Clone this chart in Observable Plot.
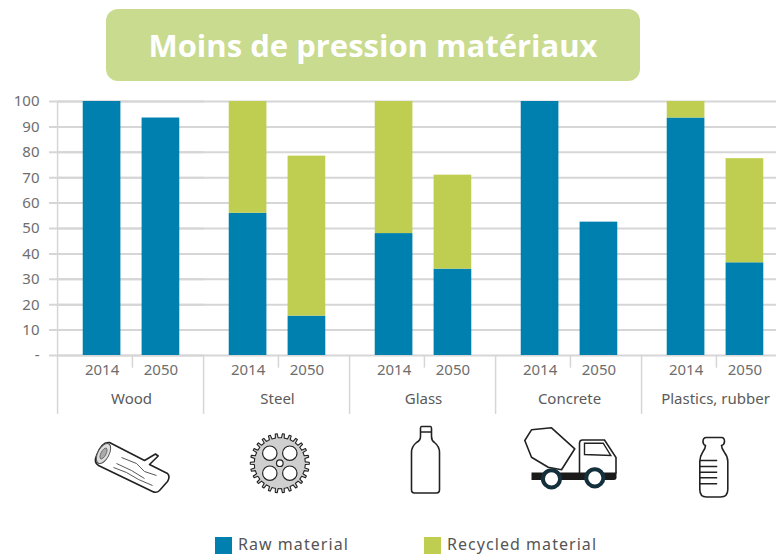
<!DOCTYPE html>
<html><head><meta charset="utf-8">
<script src="https://cdn.jsdelivr.net/npm/d3@7"></script>
<script src="https://cdn.jsdelivr.net/npm/@observablehq/plot@0.6"></script>
<style>
html,body{margin:0;padding:0;background:#fff;overflow:hidden}
#head{height:90px;position:relative}
#banner{position:absolute;left:106px;top:9px;width:534px;height:72px;background:#c9db8f;border-radius:12px;color:#fff;font:700 31px "Open Sans",sans-serif;display:flex;align-items:center;justify-content:center}
#chart svg{display:block}
#legend{position:relative;height:20px;font:16px "Noto Sans",sans-serif;color:#555;letter-spacing:1.05px}
#legend span{position:absolute;top:-1px;line-height:20px;white-space:nowrap}
#legend i{position:absolute;top:2px;width:17px;height:17px}
</style></head><body>
<div id="head"><div id="banner">Moins de pression matériaux</div></div>
<div id="chart"></div>
<div id="legend">
<i style="left:215px;background:#0080ae"></i><span style="left:238px">Raw material</span>
<i style="left:424px;background:#bfce50"></i><span style="left:447px">Recycled material</span>
</div>
<script>
const categories = ["Wood","Steel","Glass","Concrete","Plastics, rubber"];
const years = ["2014","2050"];
const raw2014 = [100,56,48,100,93.5];
const raw2050 = [93.5,15.5,34,52.5,36.5];
const recycled2014 = [0,44,52,0,6.5];
const recycled2050 = [0,63,37,0,41];
const yTicks = [0,10,20,30,40,50,60,70,80,90,100];
const seriesNames = ["Raw material","Recycled material"];

const rows = categories.flatMap((c,i)=>[
  {category:c,year:years[0],series:seriesNames[0],value:raw2014[i]},
  {category:c,year:years[0],series:seriesNames[1],value:recycled2014[i]},
  {category:c,year:years[1],series:seriesNames[0],value:raw2050[i]},
  {category:c,year:years[1],series:seriesNames[1],value:recycled2050[i]}
]);
const gridRows = categories.flatMap(c=>yTicks.map(t=>({category:c,tick:t})));

const k="#222";
function gearPath(cx,cy,n,r1,r2){
  let p="";
  for(let i=0;i<n;i++){
    const a=i/n*2*Math.PI, w=2*Math.PI/n;
    const pts=[[a-w*.5,r1],[a-w*.22,r1],[a-w*.14,r2],[a+w*.14,r2],[a+w*.22,r1]];
    pts.forEach(([t,r],j)=>{p+=(i===0&&j===0?"M":"L")+(cx+r*Math.cos(t)).toFixed(2)+","+(cy+r*Math.sin(t)).toFixed(2);});
  }
  return p+"Z";
}
const iconSvg = {
  "Wood":`<path d="M33,27 L68,45 L79,38.5 L81.7,40.5 L73,49 L91,58 Q94,61 91,66 L83,75 Q80,78 76,76 L22,50 Q17,47 20,40 Q25,26 33,27Z" fill="#fff" stroke="${k}" stroke-width="1.6" stroke-linejoin="round"/>
    <ellipse cx="27" cy="38" rx="5.6" ry="11" transform="rotate(28 27 38)" fill="#ddd" stroke="#555" stroke-width="1"/>
    <ellipse cx="27" cy="38" rx="2.5" ry="6" transform="rotate(28 27 38)" fill="#aaa" stroke="#555" stroke-width=".7"/>
    <path d="M45,42 L60,48 L68,56 L80,60 M37,52 L50,57 L62,64 L76,70 M40,48 L55,55 L68,63" fill="none" stroke="#444" stroke-width=".9"/>`,
  "Steel":`<path d="${gearPath(57.3,47.7,26,25.5,29.5)}" fill="#cfcfcf" stroke="${k}" stroke-width="1.1" stroke-linejoin="round"/>
    <g fill="#fff" stroke="${k}" stroke-width="1.2"><circle cx="47.3" cy="37.7" r="7.2"/><circle cx="67.3" cy="37.7" r="7.2"/><circle cx="47.3" cy="57.7" r="7.2"/><circle cx="67.3" cy="57.7" r="7.2"/><circle cx="57.3" cy="47.7" r="3.3"/></g>`,
  "Glass":`<path d="M53,11 H62 Q63,11 63,13 V21 Q63,25 66,27 Q71,31 71,37 V74 Q71,77.5 68,77.5 H46 Q43,77.5 43,74 V37 Q43,31 48,27 Q52,25 52,21 V13 Q52,11 53,11Z M52,16.5 H63" fill="#fff" stroke="${k}" stroke-width="1.6"/>`,
  "Concrete":`<path d="M10.3,25 L17,14.3 L37,12.3 L60.3,33.3 L47,54.3 L33.7,51.7 L17,41.7Z" fill="#fff" stroke="${k}" stroke-width="1.6" stroke-linejoin="round"/>
    <path d="M65,58 V28 Q65,24.5 68,24.5 H90 L101.5,42 V58" fill="#fff" stroke="${k}" stroke-width="1.6"/>
    <path d="M70,27.7 H88.7 L96.3,40 L70,39Z" fill="#fff" stroke="${k}" stroke-width="1.4"/>
    <path d="M17,57 H102 V62 Q102,64.5 99,64.5 H17Z" fill="#1a1a1a"/>
    <circle cx="37" cy="63.3" r="8.6" fill="#fff" stroke="#14303c" stroke-width="4"/>
    <circle cx="80.3" cy="62.3" r="8.6" fill="#fff" stroke="#14303c" stroke-width="4"/>`,
  "Plastics, rubber":`<path d="M46,22 H61 Q64,22 64,26 Q64,29 61,30 Q61,33 64,37 Q67.3,41 67.3,46 V74 Q67.3,81.5 60,81.5 H46 Q39.3,81.5 39.3,74 V46 Q39.3,41 42,37 Q45,33 45,30 Q42.5,29 42.5,26 Q42.5,22 46,22Z" fill="#fff" stroke="${k}" stroke-width="1.6"/>
    <path d="M39.3,45 H56.7 M39.3,51 H56.7 M39.3,56.7 H56.7 M39.3,62.3 H56.7 M39.3,68.3 H56.7" stroke="${k}" stroke-width="1.6"/>`
};
const icons = categories.map(c=>({category:c,
  src:"data:image/svg+xml;utf8,"+encodeURIComponent(`<svg xmlns="http://www.w3.org/2000/svg" width="110" height="90" viewBox="0 0 110 90">${iconSvg[c]}</svg>`)}));

const lineColor="#d6d6d6", textColor="#6e6e6e";
const sep=-23.2, midSep=-5;

const plot = Plot.plot({
  width:776, height:445, marginTop:11, marginBottom:180, marginLeft:48, marginRight:0,
  style:{fontFamily:'"Noto Sans",sans-serif',fontSize:"15px",color:textColor,background:"#fff",overflow:"hidden"},
  fx:{domain:categories,range:[57,788.5],paddingInner:0,paddingOuter:0,axis:null,label:null},
  x:{domain:years,paddingInner:.36,paddingOuter:.42,round:false,axis:null,label:null},
  y:{domain:[0,100],axis:null,label:null},
  color:{domain:seriesNames,range:["#0080ae","#bfce50"]},
  marks:[
    Plot.ruleY(gridRows,{fx:"category",y:"tick",stroke:lineColor,strokeWidth:2,strokeOpacity:1}),
    Plot.ruleY(yTicks,{fx:()=>categories[0],y:d=>d,insetLeft:-9,stroke:lineColor,strokeWidth:2,strokeOpacity:1}),
    Plot.barY(rows,{fx:"category",x:"year",y:"value",fill:"series",order:seriesNames}),
    Plot.ruleX(categories,{fx:d=>d,x:()=>years[0],dx:-44.5,y1:0,y2:sep,stroke:lineColor,strokeWidth:1.5,strokeOpacity:1}),
    Plot.ruleX([categories[0]],{fx:d=>d,x:()=>years[0],dx:-44.5,y1:0,y2:100,stroke:lineColor,strokeWidth:1.5,strokeOpacity:1}),
    Plot.ruleX(categories,{fx:d=>d,x:()=>years[1],dx:-28.5,y1:0,y2:midSep,stroke:lineColor,strokeWidth:1.5,strokeOpacity:1}),
    Plot.axisY({ticks:yTicks,tickSize:0,tickPadding:19,anchor:"left",label:null,tickFormat:d=>d===0?"-":d,fontSize:15,fill:textColor}),
    Plot.axisX({anchor:"bottom",tickSize:0,tickPadding:9,label:null,fill:textColor,fontSize:15}),
    Plot.axisFx({anchor:"bottom",tickSize:0,tickPadding:38,label:null,fill:"#5a5a5a",fontSize:15}),
    Plot.image(icons,{fx:"category",src:"src",frameAnchor:"bottom",dy:105,width:110,height:90})
  ]
});
document.getElementById("chart").appendChild(plot);
</script></body></html>
